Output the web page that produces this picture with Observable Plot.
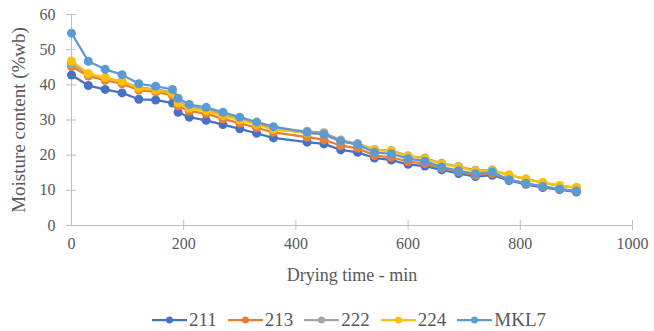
<!DOCTYPE html>
<html>
<head>
<meta charset="utf-8">
<script src="https://cdn.jsdelivr.net/npm/d3@7"></script>
<script src="https://cdn.jsdelivr.net/npm/@observablehq/plot@0.6"></script>
<style>
  body { margin: 0; background: #fff; font-family: "Liberation Serif", "DejaVu Serif", serif; }
  #chart { width: 654px; height: 331px; overflow: hidden; }
  #chart svg, #chart svg text { font-family: "Liberation Serif", "DejaVu Serif", serif !important; }
  .legend { display: flex; justify-content: center; align-items: center; gap: 11px; height: 37px; padding-left: 44px; color: #595959; font-size: 19px; font-family: "Liberation Serif", "DejaVu Serif", serif; }
  .legend .item { display: flex; align-items: center; gap: 2px; }
</style>
</head>
<body>
<div id="chart"></div>
<script>
const times = [0,30,60,90,120,150,180,190,210,240,270,300,330,360,420,450,480,510,540,570,600,630,660,690,720,750,780,810,840,870,900];
const s211 = [42.8,39.8,38.7,37.7,35.9,35.7,34.8,32.2,30.8,29.9,28.7,27.5,26.2,24.9,23.7,23.2,21.5,20.8,19.2,18.6,17.4,16.9,15.8,14.8,13.9,14.3,12.8,11.7,10.8,10.2,9.5];
const s213 = [45.2,42.5,41.3,40.3,38.5,38.0,37.0,34.0,32.5,31.8,30.3,29.1,27.8,26.5,25.1,24.4,22.7,22.0,19.9,19.4,18.2,17.6,16.3,15.3,14.3,14.8,13.1,12.0,11.0,10.4,9.7];
const s222 = [46.0,43.0,42.0,41.0,39.2,38.8,37.8,35.2,33.8,33.0,31.6,30.4,29.0,27.7,26.8,26.4,24.3,23.3,21.6,21.3,19.8,19.2,17.7,16.8,15.7,15.8,14.3,13.2,12.2,11.3,10.8];
const s224 = [46.8,43.2,42.0,40.9,39.0,38.5,37.5,34.8,33.3,32.6,31.2,30.0,28.7,27.3,26.3,25.9,24.0,23.0,21.5,21.2,19.7,19.0,17.5,16.6,15.5,15.6,14.4,13.2,12.2,11.4,10.8];
const sMKL7 = [54.7,46.7,44.4,42.9,40.3,39.6,38.7,36.2,34.4,33.6,32.2,30.8,29.4,28.1,26.5,25.9,24.0,23.0,20.8,20.4,19.0,18.3,16.6,15.6,14.7,15.2,13.0,12.0,11.1,10.4,9.8];
const seriesNames = ["211","213","222","224","MKL7"];
const seriesValues = [s211, s213, s222, s224, sMKL7];
const colors = ["#4472C4","#ED7D31","#A5A5A5","#FFC000","#5B9BD5"];
const xTicks = [0,200,400,600,800,1000];
const yTicks = [0,10,20,30,40,50,60];

const data = [];
seriesNames.forEach((name, i) => {
  seriesValues[i].forEach((v, j) => data.push({series: name, t: times[j], v}));
});

const axisColor = "#BFBFBF";
const marks = [
  Plot.ruleY([0], {stroke: axisColor, strokeWidth: 1}),
  Plot.ruleX([0], {stroke: axisColor, strokeWidth: 1}),
  Plot.ruleY(yTicks, {y: d => d, x1: -9, x2: 9, stroke: axisColor}),
  Plot.ruleX(xTicks.slice(1), {x: d => d, y1: -1.4, y2: 1.4, stroke: axisColor}),
  Plot.axisX({ticks: xTicks, tickFormat: d => String(d), tickSize: 0, tickPadding: 12, fontSize: 16, fill: "#595959",
    label: "Drying time - min", labelAnchor: "center", labelArrow: "none", labelOffset: 55}),
  Plot.axisY({ticks: yTicks, tickFormat: d => String(d), tickSize: 0, tickPadding: 16, fontSize: 16, fill: "#595959",
    label: "Moisture content (%wb)", labelAnchor: "center", labelArrow: "none", labelOffset: 60})
];
seriesNames.forEach((name, i) => {
  const d = data.filter(r => r.series === name);
  marks.push(Plot.line(d, {x: "t", y: "v", stroke: colors[i], strokeWidth: 2.25}));
  marks.push(Plot.dot(d, {x: "t", y: "v", fill: colors[i], r: 4.5, stroke: "none"}));
});

const plot = Plot.plot({
  width: 654, height: 301,
  marginTop: 14, marginLeft: 71, marginRight: 22, marginBottom: 76,
  x: {domain: [0, 1000]},
  y: {domain: [0, 60]},
  style: {fontFamily: "'Liberation Serif', 'DejaVu Serif', serif", fontSize: "16px", color: "#595959", background: "#fff"},
  marks
});
plot.querySelectorAll('[aria-label="x-axis label"] text').forEach(t => t.style.fontSize = "18px");
plot.querySelectorAll('[aria-label="y-axis label"] text').forEach(t => t.style.fontSize = "19px");

const chart = document.getElementById("chart");
chart.appendChild(plot);

const legend = document.createElement("div");
legend.className = "legend";
seriesNames.forEach((name, i) => {
  const item = document.createElement("div");
  item.className = "item";
  item.innerHTML = `<svg width="35" height="10"><line x1="0" y1="5" x2="35" y2="5" stroke="${colors[i]}" stroke-width="2.25"/><circle cx="17.5" cy="5" r="3.5" fill="${colors[i]}"/></svg><span>${name}</span>`;
  legend.appendChild(item);
});
chart.appendChild(legend);
</script>
</body>
</html>
